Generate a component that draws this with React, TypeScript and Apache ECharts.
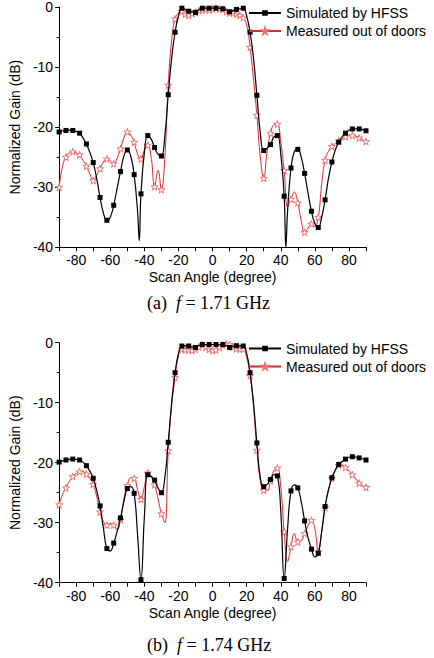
import React, { useEffect, useRef } from "react";
import * as echarts from "echarts";

// Normalized gain patterns [scan angle (deg), gain (dB)]
// (a) f = 1.71 GHz
const simulatedA: [number, number][] = [
  [-90, -20.8], [-88, -20.6], [-86, -20.55], [-84, -20.5], [-82, -20.55], [-80, -20.7],
  [-78, -21], [-76, -21.8], [-74, -22.8], [-72, -24.2], [-70, -25.9], [-68, -28.5],
  [-66, -31.7], [-64, -34.3], [-62, -35.5], [-60, -35], [-58, -33], [-56, -30.2],
  [-54, -27.4], [-52, -24.8], [-50, -23.8], [-48, -24.8], [-46, -27.9], [-44, -34],
  [-43, -38.9], [-42, -31.1], [-40, -24.2], [-38, -21.4], [-36, -22], [-34, -23.4],
  [-32, -24.5], [-30, -24.8], [-28, -21.5], [-26, -14.6], [-24, -8.5], [-22, -4.2],
  [-20, -1.5], [-18, -0.2], [-16, -0.4], [-14, -0.7], [-12, -0.8], [-10, -0.9],
  [-8, -0.5], [-6, -0.2], [-4, -0.2], [-2, -0.2], [0, -0.2], [2, -0.2], [4, -0.2],
  [6, -0.3], [8, -0.5], [10, -0.8], [12, -0.6], [14, -0.4], [16, -0.3], [18, -0.2],
  [20, -1.5], [22, -4.2], [24, -8.5], [26, -14.7], [28, -21], [30, -23.9], [32, -23.5],
  [34, -22.9], [36, -21.6], [38, -21.4], [40, -24.5], [42, -31.5], [43, -40], [44, -34],
  [46, -26.8], [48, -24], [50, -23.7], [52, -25], [54, -27.7], [56, -31], [58, -34],
  [60, -36], [62, -36.7], [64, -35], [66, -32.1], [68, -28.5], [70, -25.8], [72, -23.8],
  [74, -22.5], [76, -21.6], [78, -21], [80, -20.5], [82, -20.3], [84, -20.3], [86, -20.3],
  [88, -20.4], [90, -20.6],
];

const measuredA: [number, number][] = [
  [-90, -30], [-88, -26.5], [-86, -25], [-84, -24.3], [-82, -24.1], [-80, -24.3],
  [-78, -24.6], [-76, -25.5], [-74, -26.5], [-72, -27.8], [-70, -28.9], [-68, -28],
  [-66, -26.9], [-64, -25.8], [-62, -25.3], [-60, -25.6], [-58, -26.1], [-56, -25.2],
  [-54, -23.6], [-52, -21.8], [-50, -20.8], [-48, -21.3], [-46, -22.5], [-44, -24.5],
  [-42, -25.3], [-40, -23.8], [-38, -23], [-36, -25], [-34, -29.9], [-32, -27.2],
  [-30, -30.4], [-28, -25], [-26, -13], [-24, -5.5], [-22, -2], [-20, -1], [-18, -0.7],
  [-16, -1.2], [-14, -1.4], [-12, -1.1], [-10, -0.9], [-8, -0.6], [-6, -0.5], [-4, -0.4],
  [-2, -0.5], [0, -0.3], [2, -0.2], [4, -0.3], [6, -0.4], [8, -0.8], [10, -1], [12, -1],
  [14, -1.2], [16, -1.4], [18, -1.8], [20, -3], [22, -6.7], [24, -12], [26, -18],
  [28, -25], [30, -28.5], [32, -24], [34, -21], [36, -19.6], [38, -19.5], [40, -22.5],
  [42, -27.2], [44, -33.3], [46, -32], [48, -30.8], [50, -32.6], [52, -35.5], [54, -37.5],
  [56, -36.8], [58, -36.1], [60, -36.5], [62, -35], [64, -29.5], [66, -25.5], [68, -24],
  [70, -23.2], [72, -22.7], [74, -22.3], [76, -21.9], [78, -21.6], [80, -21.4],
  [82, -21.4], [84, -21.5], [86, -21.8], [88, -22.1], [90, -22.4],
];

// (b) f = 1.74 GHz
const simulatedB: [number, number][] = [
  [-90, -19.9], [-88, -19.7], [-86, -19.55], [-84, -19.45], [-82, -19.4], [-80, -19.45],
  [-78, -19.55], [-76, -19.9], [-74, -20.5], [-72, -21.4], [-70, -22.6], [-68, -24.6],
  [-66, -27.2], [-64, -31], [-62, -34.3], [-60, -34.7], [-58, -33.4], [-56, -31.5],
  [-54, -29.2], [-52, -26.5], [-50, -24.3], [-48, -24], [-46, -25.1], [-44, -32],
  [-42, -39.5], [-40, -29], [-38, -22], [-36, -22.3], [-34, -22.9], [-32, -24.2],
  [-30, -25], [-28, -22.5], [-26, -16.6], [-24, -10], [-22, -5], [-20, -1.8],
  [-18, -0.55], [-16, -0.5], [-14, -0.55], [-12, -0.7], [-10, -0.8], [-8, -0.5],
  [-6, -0.3], [-4, -0.3], [-2, -0.3], [0, -0.3], [2, -0.3], [4, -0.3], [6, -0.3],
  [8, -0.5], [10, -0.8], [12, -0.6], [14, -0.5], [16, -0.5], [18, -0.55], [20, -1.8],
  [22, -5], [24, -10], [26, -16.7], [28, -22.5], [30, -24], [32, -23.6], [34, -22.8],
  [36, -22], [38, -22.2], [40, -28], [42, -39.3], [44, -31], [46, -24.7], [48, -23.7],
  [50, -24.2], [52, -26.5], [54, -29.7], [56, -32.5], [58, -34.4], [60, -35.7],
  [62, -35.1], [64, -31.5], [66, -27.3], [68, -24.5], [70, -22.5], [72, -21.2],
  [74, -20.3], [76, -19.8], [78, -19.4], [80, -19.1], [82, -19], [84, -19.05],
  [86, -19.2], [88, -19.35], [90, -19.55],
];

const measuredB: [number, number][] = [
  [-90, -27], [-88, -25.3], [-86, -24.2], [-84, -23.1], [-82, -22.3], [-80, -21.8],
  [-78, -21.5], [-76, -21.5], [-74, -21.9], [-72, -22.6], [-70, -23.6], [-68, -25.6],
  [-66, -28.2], [-64, -29.8], [-62, -30.4], [-60, -30.1], [-58, -30.4], [-56, -31.2],
  [-54, -29.5], [-52, -26], [-50, -23.8], [-48, -22.5], [-46, -22.6], [-44, -24.5],
  [-42, -26.1], [-40, -24], [-38, -21.7], [-36, -22.3], [-34, -23.7], [-32, -26],
  [-30, -28.5], [-28, -30], [-26, -18], [-24, -10.5], [-22, -5.8], [-20, -2.2],
  [-18, -1.1], [-16, -1.2], [-14, -1.2], [-12, -1.3], [-10, -1.1], [-8, -0.7],
  [-6, -0.4], [-4, -0.8], [-2, -1.1], [0, -1.3], [2, -1.2], [4, -0.8], [6, -0.4],
  [8, -0.2], [10, -0.3], [12, -0.7], [14, -1], [16, -1.05], [18, -1.1], [20, -2.5],
  [22, -5.5], [24, -10.5], [26, -17.9], [28, -23], [30, -24.6], [32, -24.7], [34, -23],
  [36, -21.3], [38, -20.9], [40, -24], [42, -31.5], [44, -36.5], [46, -34], [48, -31.8],
  [50, -33.2], [52, -33], [54, -31.8], [56, -30.5], [58, -29.6], [60, -31], [62, -34.8],
  [64, -31.5], [66, -27.5], [68, -24.5], [70, -22.6], [72, -21.3], [74, -20.4],
  [76, -20.4], [78, -20.8], [80, -21.3], [82, -22], [84, -22.7], [86, -23.4],
  [88, -23.8], [90, -24.1],
];

const SERIES_NAMES = ["Simulated by HFSS", "Measured out of doors"];
const CAPTIONS = ["(a)  {i|f} = 1.71 GHz", "(b)  {i|f} = 1.74 GHz"];
const X_TITLE = "Scan Angle (degree)";
const Y_TITLE = "Normalized Gain (dB)";

const SANS = "'Liberation Sans', Arial, Helvetica, sans-serif";
const SERIF = "'Liberation Serif', 'Times New Roman', serif";
const RED = "#e2262b";
const STAR =
  "path://M50,2 L61.2,36.3 L97.6,36.3 L68.2,57.6 L79.4,92 L50,70.8 L20.6,92 L31.8,57.6 L2.4,36.3 L38.8,36.3 Z";

// markers every 4 degrees from -90; the measured trace is marked more densely across the main beam
const simMarked = (a: number) => (a + 90) % 4 === 0;
const measMarked = (a: number) => (a + 90) % 4 === 0 || (Math.abs(a) <= 18 && a % 2 === 0);

function withMarkers(points: [number, number][], marked: (a: number) => boolean) {
  return points.map(([a, v]) =>
    marked(a) ? { value: [a, v] } : { value: [a, v], symbol: "none" }
  );
}

const GRIDS = [
  { left: 49.5, top: 6.7, width: 316.5, height: 240.6 },
  { left: 49.5, top: 342.7, width: 316.5, height: 240 },
];

export default function App() {
  const ref = useRef<HTMLDivElement>(null);

  useEffect(() => {
    if (!ref.current) return;
    const chart = echarts.init(ref.current, null, { renderer: "svg" });

    const xAxis = GRIDS.map((_, i) => ({
      type: "value",
      gridIndex: i,
      min: -90,
      max: 90,
      interval: 10,
      name: X_TITLE,
      nameLocation: "middle",
      nameGap: 23,
      nameTextStyle: { fontFamily: SANS, fontSize: 14, color: "#000" },
      axisLine: { onZero: false, lineStyle: { color: "#000", width: 1 } },
      axisTick: { show: true, inside: false, length: 4, lineStyle: { color: "#000" } },
      axisLabel: {
        margin: 6,
        fontFamily: SANS,
        fontSize: 14,
        color: "#000",
        formatter: (v: number) => (v % 20 === 0 ? String(v) : ""),
      },
      splitLine: { show: false },
    }));

    const yAxis = GRIDS.map((_, i) => ({
      type: "value",
      gridIndex: i,
      min: -40,
      max: 0,
      interval: 10,
      name: Y_TITLE,
      nameLocation: "middle",
      nameGap: 33,
      nameTextStyle: { fontFamily: SANS, fontSize: 14, color: "#000" },
      axisLine: { show: true, onZero: false, lineStyle: { color: "#000", width: 1 } },
      axisTick: { show: true, inside: false, length: 4, lineStyle: { color: "#000" } },
      minorTick: { show: true, splitNumber: 2, length: 2.5, lineStyle: { color: "#000" } },
      axisLabel: { margin: 6, fontFamily: SANS, fontSize: 14, color: "#000" },
      splitLine: { show: false },
    }));

    const sets = [
      [simulatedA, measuredA],
      [simulatedB, measuredB],
    ];

    const series: any[] = [];
    sets.forEach(([sim, meas], i) => {
      series.push({
        type: "line",
        name: SERIES_NAMES[1],
        xAxisIndex: i,
        yAxisIndex: i,
        data: withMarkers(meas, measMarked),
        smooth: 0.45,
        symbol: STAR,
        symbolSize: 7,
        showSymbol: true,
        lineStyle: { color: RED, width: 1 },
        itemStyle: { color: "#fff", borderColor: "#f07070", borderWidth: 1 },
        z: 2,
      });
      series.push({
        type: "line",
        name: SERIES_NAMES[0],
        xAxisIndex: i,
        yAxisIndex: i,
        data: withMarkers(sim, simMarked),
        smooth: 0.45,
        symbol: "rect",
        symbolSize: 5,
        showSymbol: true,
        lineStyle: { color: "#000", width: 1.2 },
        itemStyle: { color: "#000" },
        z: 3,
      });
    });

    const legendTops = [5, 340.5];

    chart.setOption({
      animation: false,
      backgroundColor: "#fff",
      grid: GRIDS.map((g) => ({ ...g, containLabel: false })),
      xAxis,
      yAxis,
      legend: legendTops.map((top) => ({
        data: SERIES_NAMES,
        orient: "vertical",
        left: 248,
        top,
        padding: 0,
        itemWidth: 32,
        itemHeight: 7,
        itemGap: 2,
        selectedMode: false,
        textStyle: { fontFamily: SANS, fontSize: 14, color: "#000", lineHeight: 16 },
      })),
      title: CAPTIONS.map((text, i) => ({
        text,
        left: 147,
        top: i === 0 ? 294 : 636,
        padding: 0,
        textStyle: {
          fontFamily: SERIF,
          fontSize: 18,
          fontWeight: "normal",
          color: "#000",
          rich: {
            i: { fontFamily: SERIF, fontSize: 18, fontStyle: "italic", color: "#000" },
          },
        },
      })),
      series,
    });

    return () => chart.dispose();
  }, []);

  return (
    <div
      ref={ref}
      style={{ position: "absolute", left: 0, top: 0, width: 434, height: 658 }}
    />
  );
}
